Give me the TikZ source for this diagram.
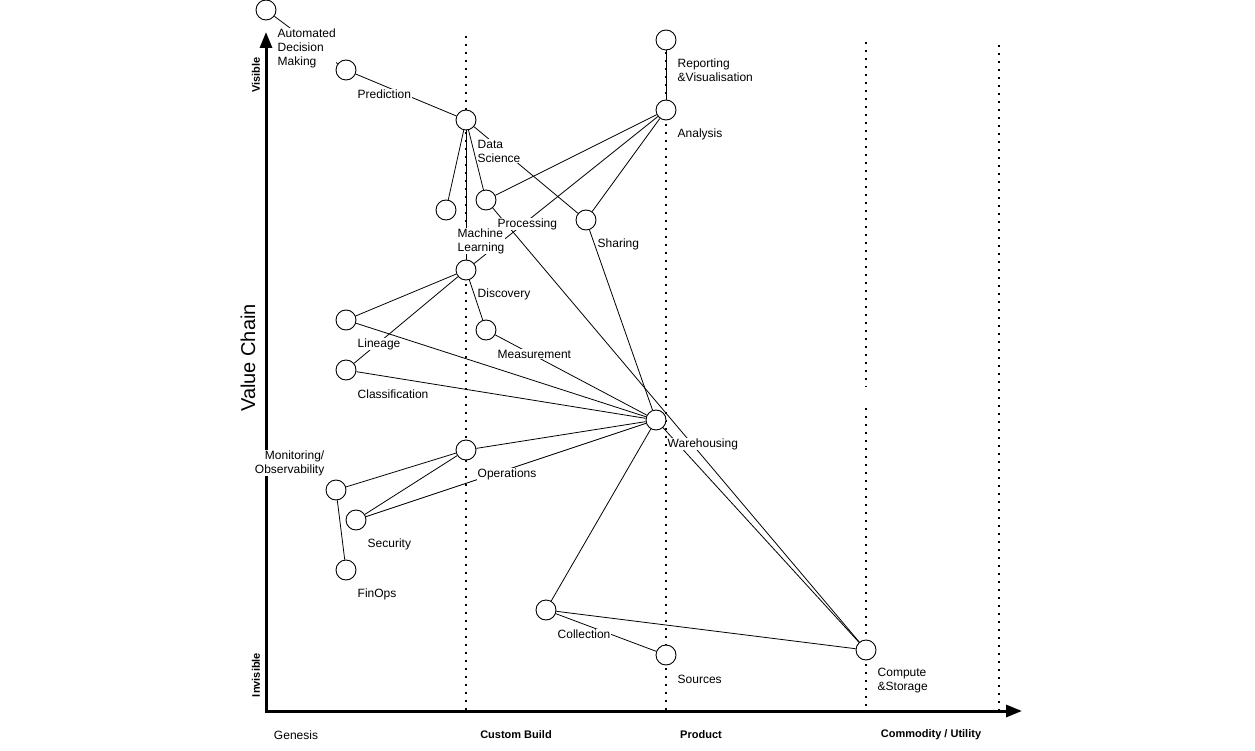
\documentclass[tikz,border=0pt]{standalone}
\usepackage{fontspec}
\setmainfont{Liberation Sans}
\usetikzlibrary{arrows.meta}
\pgfdeclarelayer{background}
\pgfdeclarelayer{edges}
\pgfdeclarelayer{labels}
\pgfsetlayers{background,edges,labels,main}

\begin{document}
\begin{tikzpicture}[x=1pt, y=-1pt,
		comp/.style={circle, draw, fill=white, minimum size=20pt, inner sep=0pt, line width=0.9pt},
		lbl/.style={anchor=west, fill=white, inner sep=0.5pt, align=left, font=\fontsize{12}{14}\selectfont},
		link/.style={line width=0.8pt},
		evo/.style={line width=1.6pt, dash pattern=on 1.6pt off 6.4pt},
		stage/.style={font=\bfseries\fontsize{11}{13}\selectfont}]
		%%%%% START %%%%%
		\useasboundingbox (0, 0) rectangle (1255, 751);
		
		\begin{pgfonlayer}{background}
		\draw[evo] (466, 36) -- (466, 711);
		\draw[evo] (666, 36) -- (666, 711);
		\draw[evo] (866, 42) -- (866, 387);
		\draw[evo] (866, 408) -- (866, 711);
		\draw[evo] (999, 45) -- (999, 711);
		
		\draw[line width=3pt, {Triangle[length=16pt, width=12pt]}-{Triangle[length=16pt, width=12pt]}] (266, 32) -- (266, 711) -- (1022, 711);
		\end{pgfonlayer}
		
		\node[rotate=90, stage] (visible) at (256, 75) {Visible};
		\node[rotate=90, stage] (invisible) at (256, 675) {Invisible};
		\node[rotate=90, font=\fontsize{20}{24}\selectfont] (vchain) at (248, 358) {Value Chain};
		\node[font=\fontsize{12}{14}\selectfont] (genesis) at (296, 735) {Genesis};
		\node[stage] (custom) at (516, 735) {Custom Build};
		\node[stage] (product) at (701, 735) {Product};
		\node[stage] (commodity) at (931, 735) {Commodity / Utility};
		
		\node[comp] (adm) at (266, 10) {};
		\node[comp] (pred) at (346, 70) {};
		\node[comp] (dsci) at (466, 120) {};
		\node[comp] (ml) at (446, 210) {};
		\node[comp] (proc) at (486, 200) {};
		\node[comp] (share) at (586, 220) {};
		\node[comp] (report) at (666, 40) {};
		\node[comp] (analysis) at (666, 110) {};
		\node[comp] (disc) at (466, 270) {};
		\node[comp] (lineage) at (346, 320) {};
		\node[comp] (measure) at (486, 330) {};
		\node[comp] (classif) at (346, 370) {};
		\node[comp] (ware) at (656, 420) {};
		\node[comp] (ops) at (466, 450) {};
		\node[comp] (monitor) at (336, 490) {};
		\node[comp] (security) at (356, 520) {};
		\node[comp] (finops) at (346, 570) {};
		\node[comp] (collect) at (546, 610) {};
		\node[comp] (sources) at (666, 655) {};
		\node[comp] (compute) at (866, 650) {};
		
		\begin{pgfonlayer}{edges}
		\draw[link] (adm) -- (pred);
		\draw[link] (pred) -- (dsci);
		\draw[link] (dsci) -- (ml);
		\draw[link] (dsci) -- (disc);
		\draw[link] (dsci) -- (proc);
		\draw[link] (dsci) -- (share);
		\draw[link] (report) -- (analysis);
		\draw[link] (analysis) -- (proc);
		\draw[link] (analysis) -- (disc);
		\draw[link] (analysis) -- (share);
		\draw[link] (proc) -- (compute);
		\draw[link] (share) -- (ware);
		\draw[link] (disc) -- (measure);
		\draw[link] (disc) -- (lineage);
		\draw[link] (disc) -- (classif);
		\draw[link] (lineage) -- (ware);
		\draw[link] (classif) -- (ware);
		\draw[link] (measure) -- (ware);
		\draw[link] (ops) -- (ware);
		\draw[link] (security) -- (ware);
		\draw[link] (ops) -- (monitor);
		\draw[link] (ops) -- (security);
		\draw[link] (monitor) -- (finops);
		\draw[link] (ware) -- (collect);
		\draw[link] (ware) -- (compute);
		\draw[link] (collect) -- (compute);
		\draw[link] (collect) -- (sources);
		\end{pgfonlayer}
		
		\begin{pgfonlayer}{labels}
		\node[lbl] (adm-l) at (277, 48) {Automated\\Decision\\Making};
		\node[lbl] (pred-l) at (357, 94) {Prediction};
		\node[lbl] (dsci-l) at (477, 151) {Data\\Science};
		\node[lbl] (ml-l) at (457, 241) {Machine\\Learning};
		\node[lbl] (proc-l) at (497, 224) {Processing};
		\node[lbl] (share-l) at (597, 244) {Sharing};
		\node[lbl] (report-l) at (677, 70) {Reporting\\\&Visualisation};
		\node[lbl] (analysis-l) at (677, 134) {Analysis};
		\node[lbl] (disc-l) at (477, 294) {Discovery};
		\node[lbl] (lineage-l) at (357, 344) {Lineage};
		\node[lbl] (measure-l) at (497, 354) {Measurement};
		\node[lbl] (classif-l) at (357, 394) {Classification};
		\node[lbl] (ware-l) at (667, 444) {Warehousing};
		\node[lbl] (ops-l) at (477, 474) {Operations};
		\node[lbl, anchor=east, align=right] (monitor-l) at (325, 463) {Monitoring/\\Observability};
		\node[lbl] (security-l) at (367, 544) {Security};
		\node[lbl] (finops-l) at (357, 594) {FinOps};
		\node[lbl] (collect-l) at (557, 634) {Collection};
		\node[lbl] (sources-l) at (677, 679) {Sources};
		\node[lbl] (compute-l) at (877, 681) {Compute\\\&Storage};
		\end{pgfonlayer}
		
		%%%%% END %%%%%
	\end{tikzpicture}
\end{document}
